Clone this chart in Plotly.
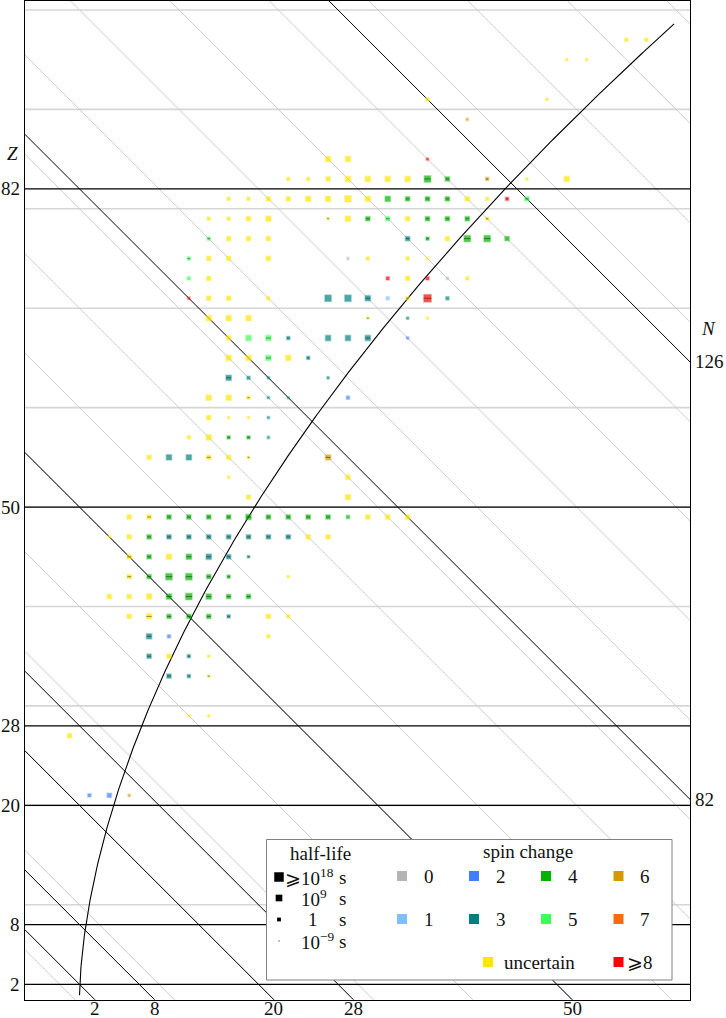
import numpy as np
import plotly.graph_objects as go

W, H = 726, 1018
X_RANGE = [-5.5, 61.4]      # N - Z
Z_RANGE = [0.45, 100.95]    # Z

MAGIC_Z = [2, 8, 20, 28, 50, 82]
MAGIC_N = [2, 8, 20, 28, 50, 82, 126]
BOTTOM_N_LABELS = [2, 8, 20, 28, 50]
RIGHT_N_LABELS = [82, 126]
GRID_Z = list(range(10, 101, 10))
GRID_N = list(range(0, 171, 10))

SPIN_CODES = ["0", "1", "2", "3", "4", "5", "6", "7", "8", "u"]
SPIN_COLORS = {"0": "#b4b4b4", "1": "#7fbfff", "2": "#3f7fff", "3": "#008080",
               "4": "#00b400", "5": "#3cff5a", "6": "#d49b00", "7": "#ff6a0a",
               "8": "#ff0000", "u": "#ffe600"}
SPIN_LABELS = {"0": "0", "1": "1", "2": "2", "3": "3", "4": "4", "5": "5",
               "6": "6", "7": "7", "8": "⩾8", "u": "uncertain"}

# isomer data, one entry per row of odd Z
ROW_Z = [97, 95, 91, 89, 85, 83, 81, 79, 77, 75, 73, 71, 69, 67, 65, 63, 61, 59, 57, 55,
         53, 51, 49, 47, 45, 43, 41, 39, 37, 35, 33, 29, 27, 21]
ROW_NZ = [
    [55, 57], [49, 51], [35, 47], [39], [25, 27, 35],
    [21, 23, 25, 27, 29, 31, 33, 35, 37, 41, 45, 49],
    [15, 17, 19, 21, 23, 25, 27, 29, 31, 33, 35, 37, 39, 41, 43, 45],
    [13, 15, 17, 19, 25, 27, 29, 31, 33, 35, 37, 39, 41],
    [13, 15, 17, 19, 33, 35, 37, 39, 41, 43],
    [11, 13, 15, 19, 27, 29, 33, 35],
    [11, 13, 31, 33, 35, 37, 39],
    [11, 13, 15, 19, 25, 27, 29, 31, 33, 35, 37],
    [13, 15, 17, 29, 33, 35],
    [15, 17, 19, 21, 25, 27, 29, 33],
    [15, 17, 19, 21, 23],
    [15, 17, 19, 25],
    [13, 15, 17, 19, 21, 27],
    [13, 15, 17, 19],
    [11, 13, 15, 17, 19],
    [7, 9, 11, 13, 15, 17, 25],
    [15, 27], [17, 27],
    [5, 7, 9, 11, 13, 15, 17, 19, 21, 23, 25, 27, 29, 31, 33],
    [3, 5, 7, 9, 11, 13, 15, 17, 19, 21, 23, 25],
    [5, 7, 9, 11, 13, 15, 17],
    [5, 7, 9, 11, 13, 15, 21],
    [3, 5, 7, 9, 11, 13, 15, 17],
    [5, 7, 9, 11, 13, 15, 19, 21],
    [7, 9, 19], [7, 9, 11, 13], [9, 11, 13], [11, 13], [-1], [1, 3, 5],
]
ROW_SPIN = [
    "uu", "uu", "uu", "6", "uu8",
    "uuuuuuu446uu",
    "uuuuuuuu4444uu85",
    "uuuuuu45u444u",
    "5uuu34u444",
    "5uuu0uuu",
    "5u8u81u",
    "8uuu3331u83",
    "uuuu3u",
    "u5533332",
    "uu5u3",
    "3333",
    "uuu332",
    "uuu3",
    "uu443",
    "u33uuu6",
    "uu", "uu",
    "uu4444444444uuu",
    "uu43333333uu",
    "u4u4333",
    "u44444u",
    "uuu44444",
    "uu4443uu",
    "32u", "3u3u", "33u", "uu", "u", "226",
]
ROW_LOGT = [
    [-3, -3], [-6, -6], [-3, -6], [-6], [3.5, 3.5, -6],
    [-3, -3, 0.5, 3.5, 3.5, 3.5, 3.5, 7, 0.5, -3, -6, 3.5],
    [-3, -3, 0.5, 0.5, 3.5, 3.5, 7, 3.5, 3.5, 0.5, 0.5, 0.5, 0.5, -3, -3, 0.5],
    [-3, -3, 0.5, 3.5, -6, 3.5, 0.5, 0.5, 0.5, 0.5, 0.5, 0.5, -3],
    [-3, 0.5, 0.5, 0.5, 0.5, -3, 0.5, 7, 7, 0.5],
    [-3, 0.5, 0.5, 0.5, -6, -3, -3, -6],
    [-3, 0.5, -3, 0.5, -3, -6, -3],
    [-6, 0.5, 0.5, -3, 7, 7, 3.5, -3, -3, 10, -3],
    [3.5, 3.5, 3.5, -6, -6, -6],
    [0.5, 3.5, 3.5, -3, 3.5, 3.5, 3.5, -6],
    [3.5, 3.5, 3.5, 3.5, -3],
    [3.5, -3, -6, -6],
    [3.5, 3.5, -3, -6, -7, -3],
    [0.5, -6, -6, -6],
    [-3, 3.5, -3, -3, -6],
    [0.5, 3.5, 3.5, 0.5, 0.5, -6, 3.5],
    [-6, 0.5], [0.5, 3.5],
    [0.5, 0.5, 0.5, 0.5, 0.5, 0.5, 3.5, 0.5, 0.5, 0.5, 0.5, -3, 0.5, 0.5, 0.5],
    [-6, 0.5, 0.5, 0.5, 0.5, 0.5, 0.5, 0.5, 0.5, 0.5, 0.5, 0.5],
    [0.5, 0.5, 3.5, 3.5, 3.5, 0.5, -6],
    [0.5, 0.5, 7, 7, 0.5, -3, -6],
    [0.5, 0.5, 3.5, 3.5, 7, 3.5, 0.5, 0.5],
    [0.5, 3.5, 0.5, 0.5, 0.5, -3, 0.5, -3],
    [3.5, -3, -3], [0.5, 0.5, -3, -6], [0.5, -3, -6], [-6, -6], [0.5], [-3, 0.5, -6],
]
ROW_MARK = [
    "00", "00", "00", "0", "000",
    "000000011100",
    "0000000001110011",
    "0000101101111",
    "1000110110",
    "10000000",
    "0000000",
    "00000010110",
    "000100",
    "00110010",
    "00101",
    "1000",
    "001000",
    "0000",
    "00110",
    "0001011",
    "00", "00",
    "011111111110000",
    "001111111100",
    "1101111",
    "1111110",
    "00011111",
    "01111100",
    "100", "1010", "111", "00", "0", "000",
]

# line of beta stability, Z = A / (1.98 + 0.0155 A^(2/3))
STAB_A = np.linspace(1.8, 257, 500)


def hl_size(logt):
    return 1 + (logt + 9) * 8.5 / 27


def rgba(hexc, a):
    h = hexc.lstrip("#")
    return "rgba(%d,%d,%d,%.2f)" % (int(h[0:2], 16), int(h[2:4], 16), int(h[4:6], 16), a)


fig = go.Figure()

x0, x1 = X_RANGE


def add_lines(xs, ys, color, width):
    fig.add_trace(go.Scatter(x=xs, y=ys, mode="lines", line=dict(color=color, width=width),
                             hoverinfo="skip", showlegend=False))


# grey grid
gx, gy = [], []
for z in GRID_Z:
    gx += [x0, x1, None]
    gy += [z, z, None]
add_lines(gx, gy, "#d6d6d6", 1.6)
gx, gy = [], []
for n in GRID_N:
    gx += [x0, x1, None]
    gy += [n - x0, n - x1, None]
add_lines(gx, gy, "#cccccc", 1.0)

# magic lines
gx, gy = [], []
for z in MAGIC_Z:
    gx += [x0, x1, None]
    gy += [z, z, None]
add_lines(gx, gy, "#000000", 1.3)
gx, gy = [], []
for n in MAGIC_N:
    gx += [x0, x1, None]
    gy += [n - x0, n - x1, None]
add_lines(gx, gy, "#000000", 1.0)

# stability line
stab_z = STAB_A / (1.98 + 0.0155 * STAB_A ** (2 / 3))
add_lines(STAB_A - 2 * stab_z, stab_z, "#000000", 1.1)

# flatten data
pts = []
for z, nzs, sp, lt, mk in zip(ROW_Z, ROW_NZ, ROW_SPIN, ROW_LOGT, ROW_MARK):
    assert len(nzs) == len(sp) == len(lt) == len(mk), (z, len(nzs), len(sp), len(lt), len(mk))
    for i in range(len(nzs)):
        pts.append((nzs[i], z, sp[i], lt[i], mk[i] == "1"))

for code in SPIN_CODES:
    sel = [p for p in pts if p[2] == code]
    if not sel:
        continue
    fig.add_trace(go.Scatter(
        x=[p[0] for p in sel], y=[p[1] for p in sel], mode="markers",
        marker=dict(symbol="square", size=[hl_size(p[3]) + 0.3 for p in sel],
                    color=SPIN_COLORS[code],
                    line=dict(color=rgba(SPIN_COLORS[code], 0.4), width=1.6)),
        hoverinfo="skip", showlegend=False))

sel = [p for p in pts if p[4]]
fig.add_trace(go.Scatter(
    x=[p[0] for p in sel], y=[p[1] for p in sel], mode="markers",
    marker=dict(symbol="line-ew", size=[max(hl_size(p[3]) - 1.2, 1.5) for p in sel],
                color="rgba(0,0,0,0.6)", line=dict(color="rgba(0,0,0,0.6)", width=1)),
    hoverinfo="skip", showlegend=False))

FONT = "Liberation Serif"
TXT = "#111111"
annotations = []


def ann(text, x, y, xref="paper", yref="paper", xanchor="center", size=19, italic=False):
    if xref == "paper":
        x = x / W
    if yref == "paper":
        y = 1 - y / H
    if italic:
        text = "<i>%s</i>" % text
    annotations.append(dict(text=text, x=x, y=y, xref=xref, yref=yref, xanchor=xanchor,
                            yanchor="middle", showarrow=False,
                            font=dict(family=FONT, size=size, color=TXT)))


for z in MAGIC_Z:
    ann(str(z), 22, z, yref="y", xanchor="right")
for n in BOTTOM_N_LABELS:
    ann(str(n), n - Z_RANGE[0], 1008, xref="x")
for n in RIGHT_N_LABELS:
    ann(str(n), 693, n - X_RANGE[1], yref="y", xanchor="left")
ann("Z", 12, 153, italic=True)
ann("N", 708, 328, italic=True)

shapes = []


def rect(cx, cy, s, color):
    shapes.append(dict(type="rect", xref="paper", yref="paper", layer="above",
                       x0=(cx - s / 2) / W, x1=(cx + s / 2) / W,
                       y0=1 - (cy + s / 2) / H, y1=1 - (cy - s / 2) / H,
                       fillcolor=color, line=dict(width=0)))


# legend box
shapes.append(dict(type="rect", xref="paper", yref="paper", layer="above",
                   x0=266.5 / W, x1=672 / W, y0=1 - 980 / H, y1=1 - 839.5 / H,
                   fillcolor="white", line=dict(color="#808080", width=1)))

LEG_HL_LOGT = [18, 9, 0, -9]
LEG_HL_TEXT = ["⩾10<sup>18</sup>", "10<sup>9</sup>", "1", "10<sup>−9</sup>"]
leg_hl_y = [877, 898, 919.5, 941]
leg_hl_tx = [309, 313.5, 313, 317]
ann("half-life", 320, 853)
for lt, t, yy, tx in zip(LEG_HL_LOGT, LEG_HL_TEXT, leg_hl_y, leg_hl_tx):
    rect(279, yy, hl_size(lt), "#000000")
    ann(t, tx, yy)
    ann("s", 342.5, yy)

ann("spin change", 527.5, 851)
leg_pos = {"0": (402, 876), "2": (474, 876), "4": (546, 876), "6": (618.5, 876),
           "1": (402, 919), "3": (474, 919), "5": (546, 919), "7": (618.5, 919),
           "u": (488, 962), "8": (618.5, 962)}
for code, (cx, cy) in leg_pos.items():
    rect(cx, cy, 10, SPIN_COLORS[code])
    if code == "u":
        ann(SPIN_LABELS[code], 539, cy)
    elif code == "8":
        ann(SPIN_LABELS[code], 625, cy, xanchor="left")
    else:
        ann(SPIN_LABELS[code], cx + 26.5, cy)

fig.update_layout(
    width=W, height=H, margin=dict(l=0, r=0, t=0, b=0),
    paper_bgcolor="white", plot_bgcolor="white",
    xaxis=dict(domain=[24.8 / W, 690 / W], range=X_RANGE, showgrid=False, zeroline=False,
               showticklabels=False, ticks="", showline=True, mirror=True,
               linecolor="#000000", linewidth=1.2),
    yaxis=dict(domain=[1 - 999.7 / H, 1 - 0.5 / H], range=Z_RANGE, showgrid=False,
               zeroline=False, showticklabels=False, ticks="", showline=True, mirror=True,
               linecolor="#000000", linewidth=1.2),
    annotations=annotations, shapes=shapes, showlegend=False,
)

fig.write_html("out.html", config={"displayModeBar": False},
               post_script="document.body.style.margin='0';document.body.style.overflow='hidden';")
